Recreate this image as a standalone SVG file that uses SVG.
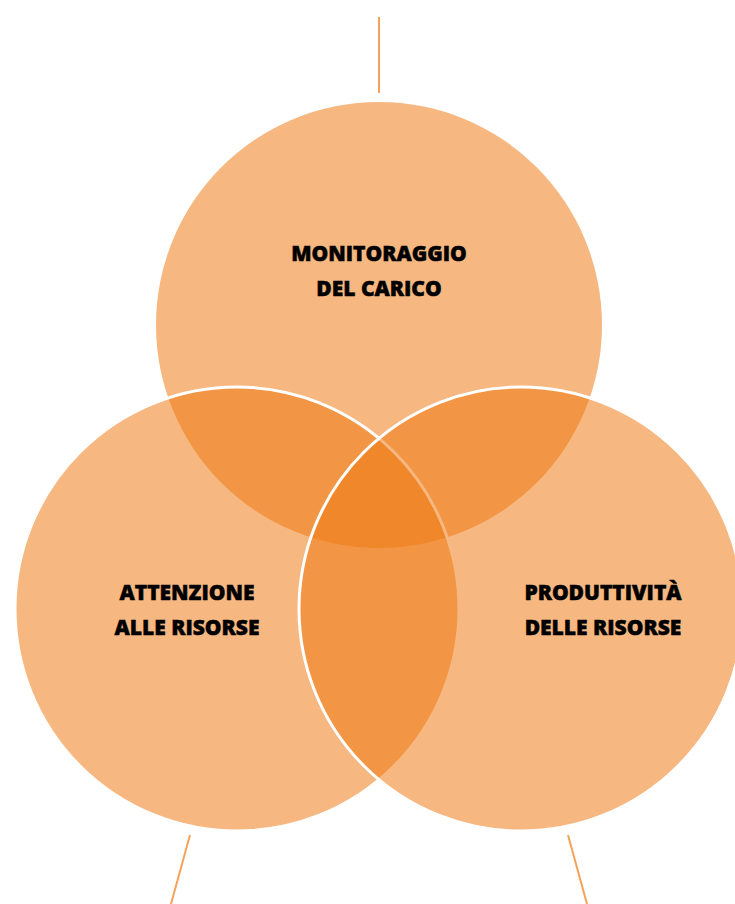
<svg xmlns="http://www.w3.org/2000/svg" width="735" height="904" viewBox="0 0 735 904">
<style>
.c{fill:#EE7A15;fill-opacity:0.54}
.s{stroke:#FFFFFF;stroke-width:3}
.l{stroke:#F4A25A;stroke-width:2;fill:none}
.t{font-family:"Open Sans","Liberation Sans",sans-serif;font-weight:800;font-size:21px;fill:#000000;stroke:#000000;stroke-width:0.5;text-anchor:middle}
</style>
<rect width="735" height="904" fill="#FFFFFF"/>
<g id="connectors">
<line class="l" x1="379" y1="17" x2="379" y2="93"/>
<line class="l" x1="190" y1="835" x2="171" y2="904"/>
<line class="l" x1="568" y1="835" x2="587" y2="904"/>
</g>
<g id="node-monitoraggio">
<circle class="c" cx="379" cy="325" r="223"/>
<text class="t" x="379" y="261">MONITORAGGIO</text>
<text class="t" x="379" y="296">DEL CARICO</text>
</g>
<g id="node-attenzione">
<circle class="c s" cx="237" cy="609" r="222"/>
<text class="t" x="187" y="600">ATTENZIONE</text>
<text class="t" x="187" y="635">ALLE RISORSE</text>
</g>
<g id="node-produttivita">
<circle class="c s" cx="521" cy="609" r="222"/>
<text class="t" x="603" y="600">PRODUTTIVITÀ</text>
<text class="t" x="603" y="635">DELLE RISORSE</text>
</g>
</svg>
